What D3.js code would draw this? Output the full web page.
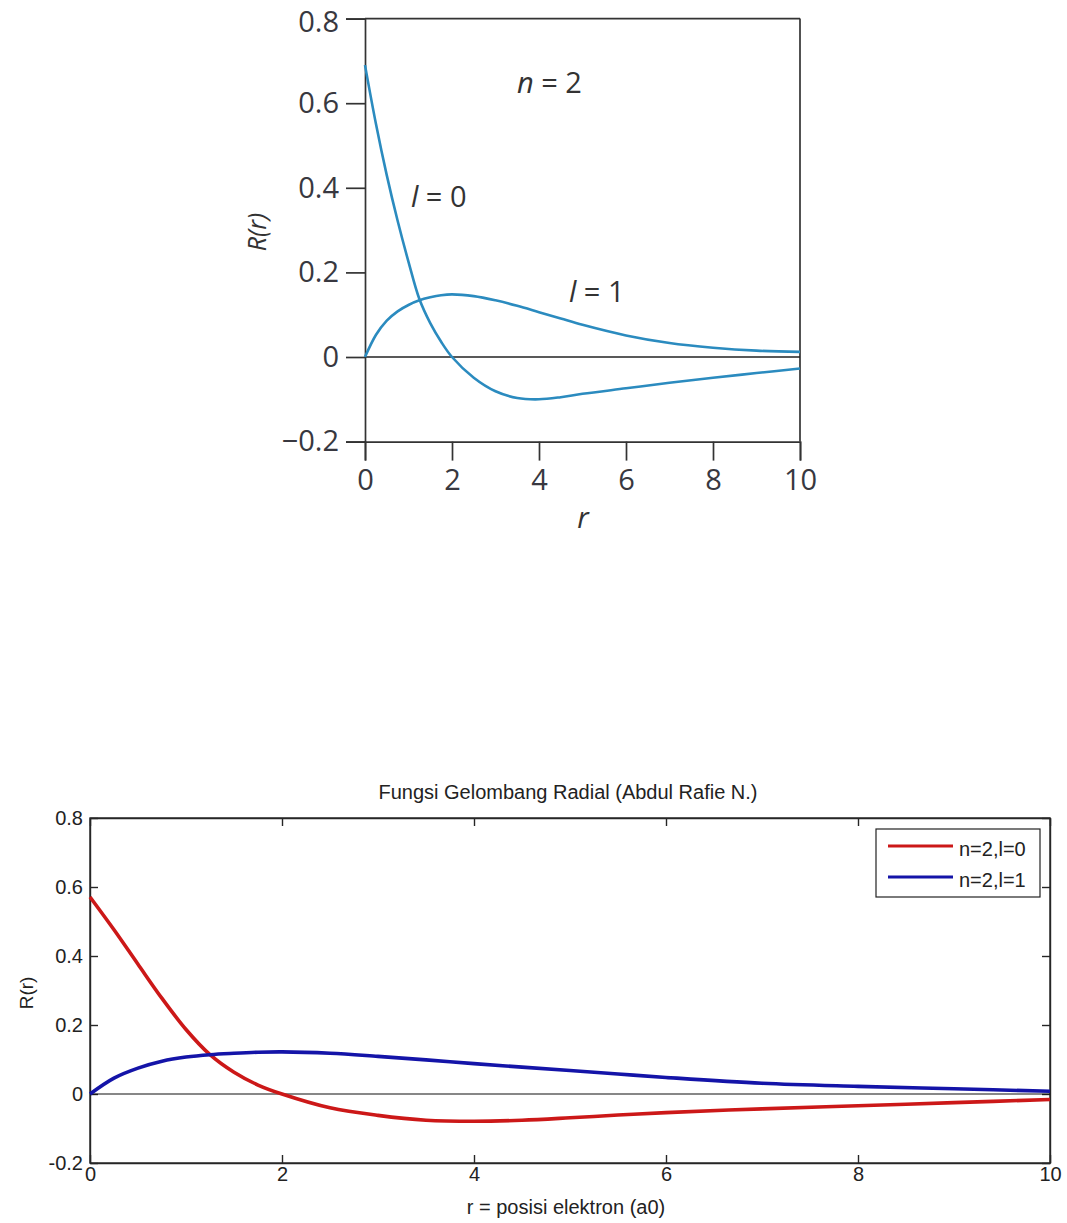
<!DOCTYPE html>
<html>
<head>
<meta charset="utf-8">
<script src="https://cdn.jsdelivr.net/npm/d3@7"></script>
<style>
  body { margin: 0; background: #fff; }
  svg { display: block; }
</style>
</head>
<body>
<script>
// radius values
var rTop = [0, 0.25, 0.5, 0.75, 1, 1.25, 1.5, 1.75, 2, 2.5, 3, 3.5, 4, 4.5, 5, 6, 7, 8, 9, 10];
var topL0 = [0.69, 0.552, 0.43, 0.322, 0.225, 0.137, 0.08, 0.036, 0, -0.049, -0.081, -0.097, -0.100, -0.095, -0.087, -0.074, -0.061, -0.049, -0.038, -0.027];
var topL1 = [0, 0.052, 0.086, 0.108, 0.123, 0.134, 0.141, 0.146, 0.148, 0.144, 0.134, 0.121, 0.106, 0.091, 0.076, 0.051, 0.033, 0.022, 0.015, 0.012];

var rBot = [0, 0.25, 0.5, 0.75, 1, 1.25, 1.5, 1.75, 2, 2.5, 3, 3.5, 4, 4.5, 5, 5.5, 6, 7, 8, 9, 10];
var botL0 = [0.571, 0.476, 0.376, 0.277, 0.187, 0.114, 0.063, 0.026, 0, -0.040, -0.062, -0.076, -0.079, -0.076, -0.069, -0.061, -0.054, -0.043, -0.034, -0.025, -0.016];
var botL1 = [0, 0.046, 0.075, 0.095, 0.107, 0.114, 0.118, 0.121, 0.122, 0.118, 0.109, 0.099, 0.088, 0.078, 0.068, 0.058, 0.048, 0.031, 0.022, 0.015, 0.008];

var xTicks = [0, 2, 4, 6, 8, 10];
var yTicks = [-0.2, 0, 0.2, 0.4, 0.6, 0.8];
var legendLabels = ["n=2,l=0", "n=2,l=1"];

var svg = d3.select("body").append("svg")
  .attr("width", 1067)
  .attr("height", 1223);

function zip(rs, vs) {
  return rs.map(function(r, i) { return {r: r, v: vs[i]}; });
}

//---------------- top chart ----------------
var xTop = d3.scaleLinear().domain([0, 10]).range([365, 800]);
var yTop = d3.scaleLinear().domain([-0.2, 0.8]).range([441.6, 18.6]);
var topColor = "#2b8bbf";
var axisCol = "#333";
var topFont = "Open Sans";

var gTop = svg.append("g");

var leftAxis = gTop.append("g")
  .attr("transform", "translate(" + xTop(0) + ",0)")
  .call(d3.axisLeft(yTop).tickValues(yTicks).tickSize(19).tickPadding(7)
    .tickFormat(function(d) { return d < 0 ? "\u2212" + String(-d) : String(d); }));

var bottomAxis = gTop.append("g")
  .attr("transform", "translate(0," + yTop(-0.2) + ")")
  .call(d3.axisBottom(xTop).tickValues(xTicks).tickSize(19).tickPadding(9)
    .tickFormat(function(d) { return String(d); }));

[leftAxis, bottomAxis].forEach(function(a) {
  a.selectAll("path, line").attr("stroke", axisCol).attr("stroke-width", 1.7);
  a.selectAll("text").attr("font-family", topFont).attr("font-size", 29).attr("fill", "#383840");
});
// the top label sits a little lower than its tick, as in the source figure
leftAxis.selectAll(".tick text").filter(function(d) { return d === 0.8; }).attr("y", 4);

gTop.append("line")
  .attr("x1", xTop(0)).attr("x2", xTop(10))
  .attr("y1", yTop(0.8)).attr("y2", yTop(0.8))
  .attr("stroke", axisCol).attr("stroke-width", 1.7);
gTop.append("line")
  .attr("x1", xTop(10)).attr("x2", xTop(10))
  .attr("y1", yTop(0.8)).attr("y2", yTop(-0.2))
  .attr("stroke", axisCol).attr("stroke-width", 1.7);
gTop.append("line")
  .attr("x1", xTop(0)).attr("x2", xTop(10))
  .attr("y1", yTop(0)).attr("y2", yTop(0))
  .attr("stroke", "#222").attr("stroke-width", 1.5);

var lineTop = d3.line()
  .x(function(d) { return xTop(d.r); })
  .y(function(d) { return yTop(d.v); })
  .curve(d3.curveCatmullRom.alpha(0.5));

[topL0, topL1].forEach(function(vs) {
  gTop.append("path")
    .datum(zip(rTop, vs))
    .attr("fill", "none")
    .attr("stroke", topColor)
    .attr("stroke-width", 2.6)
    .attr("d", lineTop);
});

// axis titles
gTop.append("text")
  .attr("x", 583).attr("y", 528)
  .attr("text-anchor", "middle")
  .attr("font-family", topFont).attr("font-style", "italic")
  .attr("font-size", 29).attr("fill", "#333")
  .text("r");
gTop.append("text")
  .attr("transform", "translate(266,232) rotate(-90)")
  .attr("text-anchor", "middle")
  .attr("font-family", topFont).attr("font-style", "italic")
  .attr("font-size", 25).attr("fill", "#333")
  .text("R(r)");

// curve annotations
function note(x, y, sym, rest) {
  var t = gTop.append("text")
    .attr("x", x).attr("y", y)
    .attr("font-family", topFont).attr("font-size", 29).attr("fill", "#333");
  t.append("tspan").attr("font-style", "italic").text(sym);
  t.append("tspan").text(rest);
}
note(517, 93, "n", " = 2");
note(411, 207, "l", " = 0");
note(569, 302, "l", " = 1");

//---------------- bottom chart ----------------
var xBot = d3.scaleLinear().domain([0, 10]).range([90, 1050]);
var yBot = d3.scaleLinear().domain([-0.2, 0.8]).range([1163, 818]);
var botFont = "Liberation Sans";
var botText = "#222";

var gBot = svg.append("g");

gBot.append("rect")
  .attr("x", xBot(0)).attr("y", yBot(0.8))
  .attr("width", xBot(10) - xBot(0)).attr("height", yBot(-0.2) - yBot(0.8))
  .attr("fill", "none").attr("stroke", "#262626").attr("stroke-width", 1.4);

var bAxes = [
  gBot.append("g").attr("transform", "translate(0," + yBot(-0.2) + ")")
    .call(d3.axisBottom(xBot).tickValues(xTicks).tickSizeInner(-8).tickSizeOuter(0).tickPadding(4)
      .tickFormat(function(d) { return String(d); })),
  gBot.append("g").attr("transform", "translate(0," + yBot(0.8) + ")")
    .call(d3.axisTop(xBot).tickValues(xTicks).tickSizeInner(-8).tickSizeOuter(0).tickFormat("")),
  gBot.append("g").attr("transform", "translate(" + xBot(0) + ",0)")
    .call(d3.axisLeft(yBot).tickValues(yTicks).tickSizeInner(-8).tickSizeOuter(0).tickPadding(7)
      .tickFormat(function(d) { return String(d); })),
  gBot.append("g").attr("transform", "translate(" + xBot(10) + ",0)")
    .call(d3.axisRight(yBot).tickValues(yTicks).tickSizeInner(-8).tickSizeOuter(0).tickFormat(""))
];
bAxes.forEach(function(a) {
  a.selectAll("path, line").attr("stroke", "#262626").attr("stroke-width", 1.4);
  a.selectAll("text").attr("font-family", botFont).attr("font-size", 20).attr("fill", botText);
});

// zero reference line
gBot.append("path")
  .datum([{r: 0, v: 0}, {r: 10, v: 0}])
  .attr("fill", "none").attr("stroke", "#111").attr("stroke-width", 1.2)
  .attr("d", d3.line().x(function(d) { return xBot(d.r); }).y(function(d) { return yBot(d.v); }));

var lineBot = d3.line()
  .x(function(d) { return xBot(d.r); })
  .y(function(d) { return yBot(d.v); })
  .curve(d3.curveCatmullRom.alpha(0.5));

var botColors = ["#cc1818", "#1414a8"];
[botL0, botL1].forEach(function(vs, i) {
  gBot.append("path")
    .datum(zip(rBot, vs))
    .attr("fill", "none")
    .attr("stroke", botColors[i])
    .attr("stroke-width", 3.6)
    .attr("d", lineBot);
});

gBot.append("text")
  .attr("x", 568).attr("y", 799)
  .attr("text-anchor", "middle")
  .attr("font-family", botFont).attr("font-size", 20).attr("fill", botText)
  .text("Fungsi Gelombang Radial (Abdul Rafie N.)");
gBot.append("text")
  .attr("x", 566).attr("y", 1214)
  .attr("text-anchor", "middle")
  .attr("font-family", botFont).attr("font-size", 20).attr("fill", botText)
  .text("r = posisi elektron (a0)");
gBot.append("text")
  .attr("transform", "translate(33,993) rotate(-90)")
  .attr("text-anchor", "middle")
  .attr("font-family", botFont).attr("font-size", 19).attr("fill", botText)
  .text("R(r)");

// legend
var leg = gBot.append("g").attr("transform", "translate(876,829)");
leg.append("rect")
  .attr("width", 164).attr("height", 68)
  .attr("fill", "#fff").attr("stroke", "#222").attr("stroke-width", 1.2);
legendLabels.forEach(function(lab, i) {
  var y = 17 + i * 31;
  leg.append("line")
    .attr("x1", 12).attr("x2", 77).attr("y1", y).attr("y2", y)
    .attr("stroke", botColors[i]).attr("stroke-width", 3);
  leg.append("text")
    .attr("x", 83).attr("y", y + 10)
    .attr("font-family", botFont).attr("font-size", 20).attr("fill", botText)
    .text(lab);
});
</script>
</body>
</html>
